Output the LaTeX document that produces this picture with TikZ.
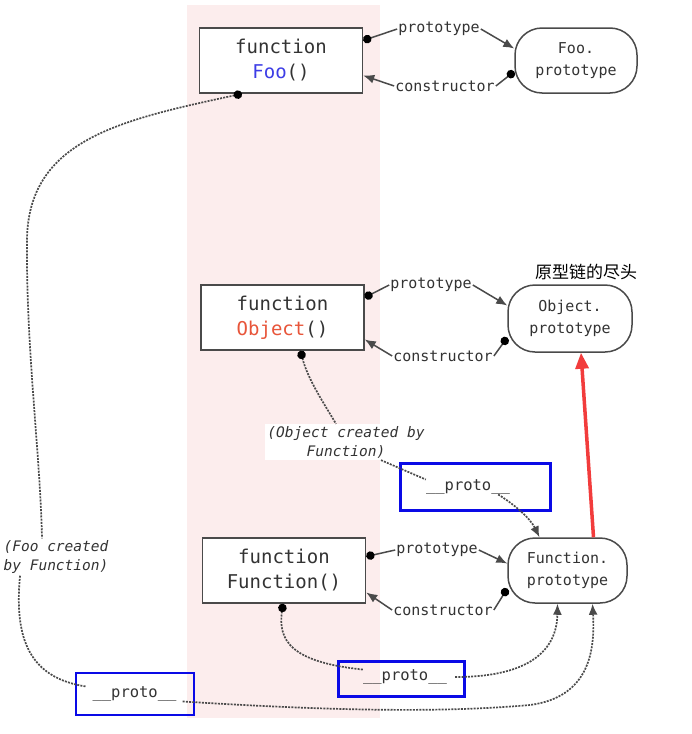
\documentclass[tikz,border=0pt]{standalone}
\usepackage{fontspec}
\newfontfamily\codefont{DejaVu Sans Mono}
\newfontfamily\cjkfont{Noto Sans CJK SC}
\usetikzlibrary{arrows.meta}
\definecolor{bandpink}{HTML}{FCEDED}
\definecolor{linegray}{HTML}{4A4A4A}
\definecolor{textgray}{HTML}{333333}
\definecolor{fooblue}{HTML}{3D3DE6}
\definecolor{objred}{HTML}{E8553A}
\definecolor{protoblue}{HTML}{0A0AE6}
\definecolor{chainred}{HTML}{F23C3C}
\begin{document}
\begin{tikzpicture}[x=1pt, y=-1pt,
    fnbox/.style={draw=linegray, line width=1.5pt, fill=white, minimum width=163pt, minimum height=65pt, align=center, text=textgray, font=\codefont\fontsize{19}{25}\selectfont},
    protonode/.style={draw=linegray, line width=1.5pt, fill=white, rounded corners=27pt, minimum height=65pt, align=center, text=textgray, font=\codefont\fontsize{15}{22}\selectfont},
    linklabel/.style={inner sep=1pt, text=textgray, font=\codefont\fontsize{15}{18}\selectfont},
    notelabel/.style={fill=white, align=center, inner sep=2pt, text=textgray, font=\codefont\itshape\fontsize{14.5}{19}\selectfont},
    protobox/.style={draw=protoblue, line width=2.3pt},
    protolabel/.style={text=textgray, inner sep=0pt, font=\codefont\fontsize{15.5}{18}\selectfont},
    link/.style={draw=linegray, line width=1.5pt},
    chain/.style={draw=linegray, line width=1.7pt, dash pattern=on 2pt off 1.2pt},
    dotstart/.style={{Circle[length=8.5pt,black]}-},
    tipend/.style={-{Latex[length=11pt,width=9pt]}}
]
\useasboundingbox (0,0) rectangle (692,734);
\fill[white] (0,0) rectangle (692,734);
\fill[bandpink] (187,5) rectangle (380,718);

\node[fnbox] (fooFn) at (281,60.5) {function\\\textcolor{fooblue}{Foo}()};
\node[protonode, minimum width=122pt] (fooProto) at (576,60.5) {Foo.\\prototype};
\node[fnbox] (objFn) at (282.5,317.5) {function\\\textcolor{objred}{Object}()};
\node[protonode, minimum width=124pt, minimum height=67pt] (objProto) at (570,318.5) {Object.\\prototype};
\node[fnbox] (fnFn) at (284,570.5) {function\\Function()};
\node[protonode, minimum width=119pt] (fnProto) at (567.5,570.5) {Function.\\prototype};

% prototype / constructor links
\node[linklabel] (fooPt) at (439,29) {prototype};
\node[linklabel] (fooCt) at (445,86) {constructor};
\draw[link, dotstart] ([yshift=20pt]fooFn.east) -- (fooPt.west);
\draw[link, tipend] (fooPt.east) -- ([yshift=12pt]fooProto.west);
\draw[link, dotstart] ([yshift=-11pt]fooProto.west) -- (fooCt.east);
\draw[link, tipend] (fooCt.west) -- ([yshift=-15pt]fooFn.east);

\node[linklabel] (objPt) at (431,285) {prototype};
\node[linklabel] (objCt) at (443,356) {constructor};
\draw[link, dotstart] ([yshift=20pt]objFn.east) -- (objPt.west);
\draw[link, tipend] (objPt.east) -- ([yshift=13pt]objProto.west);
\draw[link, dotstart] ([yshift=-19pt]objProto.west) -- (objCt.east);
\draw[link, tipend] (objCt.west) -- ([yshift=-22pt]objFn.east);

\node[linklabel] (fnPt) at (437,550) {prototype};
\node[linklabel] (fnCt) at (443,610) {constructor};
\draw[link, dotstart] ([yshift=14pt]fnFn.east) -- (fnPt.west);
\draw[link, tipend] (fnPt.east) -- ([yshift=7pt]fnProto.west);
\draw[link, dotstart] ([yshift=-18pt]fnProto.west) -- (fnCt.east);
\draw[link, tipend] (fnCt.west) -- ([yshift=-22pt]fnFn.east);

\node[font=\cjkfont\fontsize{17}{20}\selectfont, text=black] (chainEnd) at (586,272) {原型链的尽头};

% __proto__ boxes
\node[protobox, minimum width=150pt, minimum height=47pt] (pBox1) at (475.5,487) {};
\node[protolabel] (pTxt1) at (468,487) {\_\_proto\_\_};
\node[protobox, minimum width=126pt, minimum height=35pt] (pBox2) at (401.5,679) {};
\node[protolabel] (pTxt2) at (405,677) {\_\_proto\_\_};
\node[protobox, minimum width=118pt, minimum height=42pt] (pBox3) at (135,694) {};
\node[protolabel] (pTxt3) at (134.5,694) {\_\_proto\_\_};

\node[notelabel] (objNote) at (346,442) {(Object created by\\Function)};
\node[notelabel, fill=none] (fooNote) at (56,557) {(Foo created\\by Function)};

% proto chains
\draw[chain, dotstart] ([xshift=18pt]objFn.south) .. controls (308,380) and (325,405) .. ([xshift=-10pt]objNote.north);
\draw[chain] ([xshift=35pt]objNote.south) -- (pTxt1.north west);
\draw[chain, tipend] ([xshift=-12pt]pTxt1.south east) .. controls (515,505) and (530,518) .. ([xshift=-28pt]fnProto.north);

\draw[chain, dotstart] ([xshift=-1pt]fnFn.south) .. controls (278,640) and (290,662) .. (pTxt2.north west);
\draw[chain, tipend] ([xshift=8pt]pTxt2.east) .. controls (530,677) and (557,650) .. ([xshift=-10pt]fnProto.south);

\draw[chain, dotstart] ([xshift=-39pt]fooFn.south) .. controls (120,120) and (28,140) .. (27,240)
    .. controls (26,350) and (40,450) .. ([xshift=-14pt]fooNote.north);
\draw[chain] ([xshift=-36pt]fooNote.south) .. controls (14,640) and (30,678) .. ([xshift=-6pt]pTxt3.north west);
\draw[chain, tipend] ([xshift=6pt]pTxt3.south east) .. controls (350,712) and (450,712) .. (530,705)
    .. controls (590,697) and (595,650) .. ([xshift=25pt]fnProto.south);

\draw[chainred, line width=3.5pt, -{Triangle[length=16pt,width=13pt]}] ([xshift=26pt]fnProto.north) -- ([xshift=11pt]objProto.south);
\end{tikzpicture}
\end{document}
